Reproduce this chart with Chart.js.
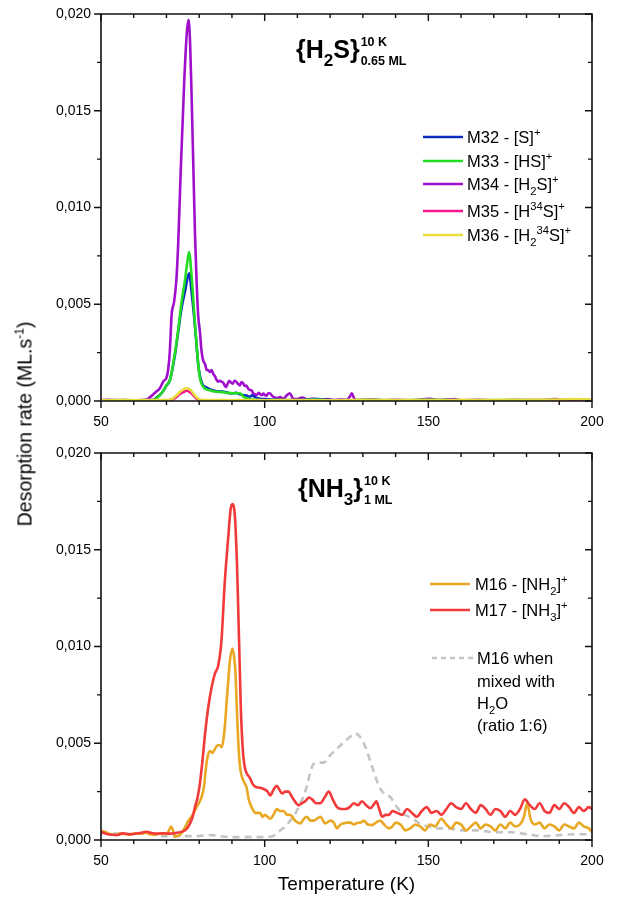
<!DOCTYPE html>
<html>
<head>
<meta charset="utf-8">
<script src="https://cdn.jsdelivr.net/npm/chart.js@4.4.1/dist/chart.umd.min.js"></script>
<style>
html, body { margin: 0; padding: 0; background: #fff; }
#wrap { position: relative; width: 624px; height: 898px; overflow: hidden; font-family: "Liberation Sans", Arial, sans-serif; }
#wrap canvas { position: absolute; left: 0; }
#ytitle { position: absolute; left: 25px; top: 424px; transform: translate(-50%, -50%) rotate(-90deg); white-space: nowrap; font-size: 19.5px; color: #000; }
#ytitle span { font-size: 12px; position: relative; top: -8px; }
</style>
</head>
<body>
<div id="wrap">
  <canvas id="h2s" width="624" height="432" style="top:0"></canvas>
  <canvas id="nh3" width="624" height="466" style="top:432px"></canvas>
  <div id="ytitle">Desorption rate (ML.s<span>-1</span>)</div>
</div>
<script>
// ---- axis ticks ----
const tempTicks = [50, 100, 150, 200];
const rateTicks = [0, 0.005, 0.010, 0.015, 0.020];

// ---- H2S desorption (10 K, 0.65 ML) ----
const tempM32 = [50,54,58,62,64,66,67,68.5,70,71.1,72.6,73.6,74.6,75.7,76.9,77.7,78.7,79.7,80.2,80.7,81.2,82.2,83.3,84.3,85.3,86.3,87.3,88.3,89.3,90.3,91.3,92.4,93.4,94.4,95.5,96.1,96.6,97.6,98.6,100,102,105,108,112,116,120,125,130,140,150,160,170,180,190,200];
const rateM32 = [0.00003,0.00005,0.00003,0.00004,0.00004,0.00006,0.00018,0.0004,0.0008,0.0011,0.0024,0.0036,0.0048,0.0057,0.0066,0.0056,0.0039,0.0019,0.0013,0.001,0.0008,0.0007,0.0006,0.00055,0.0005,0.0005,0.00048,0.00045,0.0004,0.0004,0.00042,0.00035,0.0003,0.00028,0.00022,0.0003,0.00025,0.00015,0.00012,0.0001,0.00008,0.00006,0.00005,0.00007,0.0001,0.00005,0.00004,0.00006,0.00003,0.00005,0.00004,0.00003,0.00005,0.00004,0.00003];

const tempM33 = [50,54,58,62,64,66,67,68.5,70,71.1,72.6,73.6,74.6,75.7,76.3,76.9,77.7,78.7,79.7,80.2,80.7,81.2,82.2,83.3,84.3,86.3,88.2,90.3,92.4,93.4,94.4,95.5,97,100,105,110,115,120,125,130,140,150,160,170,180,190,200];
const rateM33 = [0.00004,0.00003,0.00005,0.00003,0.00004,0.00005,0.00015,0.0004,0.0008,0.0011,0.0025,0.0037,0.0051,0.0063,0.0071,0.0077,0.0064,0.004,0.0019,0.0012,0.0009,0.00074,0.0006,0.00055,0.0005,0.00047,0.00043,0.0004,0.0004,0.00025,0.00014,0.0001,0.00006,0.00004,0.00005,0.00003,0.00006,0.00004,0.00003,0.00005,0.00004,0.00006,0.00003,0.00005,0.00004,0.00003,0.00004];

const tempM34 = [50,52,54,56,58,60,62,64,65,66,67,68,69,70,70.5,71,71.6,72.3,73,73.6,74.4,75.4,76.2,76.7,77.2,77.7,78.2,78.7,79.2,79.7,80.2,80.7,81.2,81.8,82.3,82.7,83.3,83.8,84.3,84.8,85.3,85.8,86.3,86.8,87.3,87.8,88.2,88.7,89.2,89.7,90.3,90.8,91.3,91.8,92.4,92.9,93.4,93.9,94.4,95,95.5,96,96.5,97,97.6,98.1,98.6,99.1,99.6,100.1,100.6,101.1,101.6,102.1,102.6,103.2,103.7,104.7,105.7,106.7,107.7,108.7,110,111.5,113,115,117,119,121,123,125,126,126.6,127.3,128,130,133,136,140,145,150.5,153,158,160,165,170,175,180,185,188.7,192,196,200];
const rateM34 = [0.00004,0.00006,0.00003,0.00005,0.00004,0.00003,0.00005,0.00008,0.0002,0.00035,0.0005,0.00066,0.001,0.0012,0.0016,0.0025,0.0045,0.0051,0.0062,0.0082,0.0121,0.0164,0.019,0.0197,0.0186,0.0156,0.0122,0.0087,0.0062,0.0044,0.0036,0.0026,0.0021,0.0019,0.0016,0.0016,0.0015,0.0016,0.0014,0.00128,0.0011,0.001,0.00105,0.001,0.00095,0.0008,0.00072,0.0009,0.00105,0.00095,0.0009,0.00105,0.001,0.0009,0.0008,0.00098,0.00092,0.00078,0.0008,0.00062,0.00057,0.00055,0.0004,0.00035,0.0003,0.00042,0.00036,0.0003,0.00038,0.0003,0.00028,0.0004,0.0004,0.0003,0.00022,0.00018,0.00014,0.0002,0.00012,0.00028,0.0004,0.00012,0.0001,0.00018,0.00008,0.00012,0.00006,0.0001,0.00005,0.00008,0.00006,0.00022,0.0004,0.00015,0.00004,0.00005,0.00008,0.00003,0.00006,0.00004,0.00012,0.00004,0.0001,0.00004,0.00006,0.00003,0.00005,0.00004,0.00004,0.0001,0.00003,0.00005,0.00004];

const tempM35 = [50,55,60,65,70,71,72,73,74,75.2,76.2,77.2,78.2,79.2,80.2,82,85,90,95,100,110,120,130,140,150,160,170,180,190,200];
const rateM35 = [0.00002,0.00003,0.00002,0.00003,0.00003,0.00005,0.0001,0.0002,0.00035,0.00046,0.00053,0.00045,0.0003,0.00012,0.00005,0.00003,0.00002,0.00004,0.00002,0.00003,0.00002,0.00003,0.00002,0.00004,0.00002,0.00003,0.00002,0.00003,0.00002,0.00003];

const tempM36 = [50,55,60,65,70,71,72,73,74,75.2,76.4,77.4,78.4,79.4,80.4,82,85,90,95,100,110,120,130,140,150,160,170,180,190,195,200];
const rateM36 = [0.00004,0.00005,0.00004,0.00005,0.00005,0.00007,0.00014,0.00028,0.00045,0.0006,0.00066,0.00056,0.00035,0.00015,0.00007,0.00005,0.00005,0.00004,0.00005,0.00004,0.00005,0.00004,0.00006,0.00005,0.00005,0.00006,0.00005,0.00006,0.00008,0.0001,0.00007];

// ---- NH3 desorption (10 K, 1 ML) ----
const tempM16 = [50,51.5,53,54.5,56,57.5,59,60.5,62,63.5,65,66.5,68,69.5,70.5,71.4,72,72.6,73.5,74.1,75.5,76.7,78,79.2,80.7,81.5,82.1,82.7,83.3,84,84.8,85.6,86.3,86.9,87.4,88,88.4,89,89.4,90.2,90.7,91.1,91.5,91.9,92.4,93,93.7,94.5,95,95.5,96.3,97.1,98,98.6,99.4,100.1,100.9,101.7,102.7,103.7,104.7,105.8,106.8,107.8,109.3,110.9,112,112.9,114,115,116,117,118.5,120.1,121.1,122.1,123.2,124.2,125.2,126.2,127.2,128.3,129.3,130.3,131.5,132.8,134,135.3,136.5,137.9,139,140,141.5,143,144.5,146,147.5,149,150.5,152,154,155.5,157,158.5,160,161.5,163,164.5,166,167.5,169,170.5,172,173.5,175,176.5,178,179.2,180.2,181.2,182.5,184,185.5,187,188.5,190,191.5,193,194.5,196,197.5,199,200];
const rateM16 = [0.00048,0.0004,0.0003,0.00026,0.00035,0.0003,0.00028,0.00036,0.00032,0.00038,0.0003,0.00026,0.00034,0.0003,0.0004,0.0007,0.0005,0.00017,0.00022,0.00026,0.0006,0.001,0.0013,0.0017,0.0022,0.0028,0.0038,0.0044,0.0046,0.0045,0.0047,0.0049,0.0049,0.0048,0.0052,0.0062,0.0072,0.0085,0.0093,0.0099,0.0094,0.0086,0.0068,0.0052,0.0039,0.0033,0.003,0.0027,0.0022,0.0019,0.0016,0.0014,0.0014,0.0014,0.0012,0.0013,0.0012,0.0011,0.0013,0.0016,0.0015,0.0015,0.0013,0.0013,0.001,0.00086,0.0011,0.0012,0.001,0.001,0.0011,0.0012,0.00086,0.001,0.0009,0.0006,0.0008,0.00086,0.0009,0.0009,0.0008,0.00088,0.0009,0.001,0.0008,0.00077,0.0009,0.001,0.0008,0.0006,0.0007,0.0009,0.0008,0.0005,0.0006,0.0008,0.0007,0.0005,0.0008,0.0007,0.0011,0.0008,0.0006,0.0009,0.0008,0.0005,0.0007,0.0009,0.0006,0.0008,0.0007,0.0005,0.0008,0.0006,0.0009,0.0007,0.0008,0.0012,0.0019,0.0011,0.0008,0.0009,0.0006,0.0008,0.0007,0.0005,0.0008,0.0007,0.0006,0.0009,0.0007,0.0006,0.0004];

const tempM17 = [50,52,54.8,56.8,58.5,60,62,63.9,65.5,67,69,71.1,73.1,74.5,75.7,76.5,77.2,78,78.7,79.5,80.2,81,81.8,82.8,83.8,84.8,85.8,86.8,87.8,88.9,89.6,90.2,90.7,91.1,91.5,91.9,92.3,92.7,93.1,93.5,94,94.5,95.5,96.3,97.1,98.6,100.1,100.9,101.7,102.7,103.7,104.5,105.3,106.3,107.3,108.1,108.8,110.4,111.4,112.4,113.5,114.5,115.7,117,118.3,119.6,120.8,122.1,123.4,124.7,126,127.2,128.5,129.7,131,132.3,133.2,134.1,135,135.9,137,138,139,140.5,142,143.5,145,146.5,148,149.5,151,152.5,154,155.5,157,158.5,160,161.5,163,164.5,166,167.5,169,170.5,172,173.5,175,176.5,178,179.5,181,182.5,184,185.5,187,188.5,190,191.5,193,194.5,196,197.5,199,200];
const rateM17 = [0.00043,0.0003,0.00026,0.00034,0.0003,0.00031,0.00036,0.00043,0.00036,0.00033,0.00035,0.00033,0.00037,0.00042,0.0005,0.00065,0.00086,0.0012,0.0017,0.0022,0.0029,0.0041,0.0055,0.0069,0.0079,0.0086,0.009,0.0103,0.0133,0.0157,0.0171,0.01736,0.0171,0.0162,0.0145,0.0121,0.0095,0.0069,0.0053,0.0043,0.0037,0.00345,0.0032,0.0029,0.00276,0.0027,0.0026,0.0025,0.0023,0.0026,0.0028,0.0026,0.0024,0.0025,0.0025,0.0023,0.0021,0.0018,0.0019,0.002,0.0022,0.0021,0.0019,0.0019,0.0022,0.0025,0.0021,0.0017,0.0016,0.0016,0.0017,0.0019,0.0018,0.002,0.0018,0.00164,0.0018,0.002,0.0016,0.0012,0.0013,0.0013,0.0015,0.0014,0.0013,0.0016,0.0014,0.0012,0.0015,0.0017,0.0014,0.0015,0.0013,0.0016,0.0019,0.0017,0.0016,0.0019,0.0016,0.0014,0.0018,0.0016,0.0013,0.0016,0.0015,0.0012,0.0015,0.0013,0.0016,0.0021,0.0018,0.0016,0.0019,0.0015,0.0014,0.0018,0.0016,0.0019,0.0017,0.0014,0.0017,0.0015,0.0017,0.0016];

// M16 of NH3 mixed with H2O (1:6)
const tempMix = [50,55,60,65.9,68.9,73.1,79.2,83,89.4,95.5,101.7,103.5,104.8,106.3,107.8,109.5,110.9,112,112.9,114.5,116,118,120.1,122.6,125.2,127.7,129.3,130.8,132.8,134.9,136.4,138.5,140,142,144,146,148,150,153,156,160,165,170,175,180,185,190,195,200];
const rateMix = [0.00034,0.00033,0.00032,0.00032,0.0002,0.0002,0.0002,0.00026,0.00015,0.00015,0.00017,0.0003,0.0005,0.0007,0.001,0.0014,0.0019,0.0023,0.0028,0.0038,0.004,0.004,0.0044,0.0048,0.0052,0.0055,0.0053,0.0048,0.0038,0.0028,0.0024,0.0022,0.0018,0.0014,0.0012,0.001,0.0008,0.0007,0.0006,0.0006,0.0005,0.0005,0.0004,0.0004,0.0003,0.0002,0.00025,0.0003,0.0003];

const FONT = '"Liberation Sans", Arial, sans-serif';

function pts(xs, ys) { return xs.map((x, i) => ({ x: x, y: ys[i] })); }

function series(label, xs, ys, color, order, dash) {
  return {
    label: label, data: pts(xs, ys), borderColor: color, backgroundColor: color,
    borderWidth: 2.6, pointRadius: 0, fill: false, order: order,
    cubicInterpolationMode: 'monotone', borderDash: dash || [], borderJoinStyle: 'round'
  };
}

// draws text made of normal / sub / sup pieces, returns end x
function richText(ctx, x, y, parts, size, bold) {
  const w = bold ? 'bold ' : '';
  ctx.textBaseline = 'alphabetic';
  ctx.textAlign = 'left';
  for (const [txt, kind] of parts) {
    let s = size, dy = 0;
    if (kind === 'sub') { s = size * 0.68; dy = size * 0.3; }
    if (kind === 'sup') { s = size * 0.68; dy = -size * 0.42; }
    ctx.font = w + s + 'px ' + FONT;
    ctx.fillText(txt, x, y + dy);
    x += ctx.measureText(txt).width;
  }
  return x;
}

// frame with ticks on all four sides (outside on left/bottom, inside on top/right)
const framePlugin = {
  id: 'frame',
  afterDatasetsDraw(chart) {
    const ctx = chart.ctx;
    const { left, right, top, bottom } = chart.chartArea;
    const xs = chart.scales.x, ys = chart.scales.y;
    ctx.save();
    ctx.strokeStyle = '#111';
    ctx.lineWidth = 1.6;
    ctx.beginPath();
    ctx.rect(left, top, right - left, bottom - top);
    ctx.stroke();
    ctx.lineWidth = 1.4;
    ctx.beginPath();
    for (let t = 50; t <= 200; t += 10) {
      const px = xs.getPixelForValue(t);
      const len = (t % 50 === 0) ? 7 : 4;
      ctx.moveTo(px, bottom); ctx.lineTo(px, bottom + len);
      ctx.moveTo(px, top); ctx.lineTo(px, top + len);
    }
    for (let k = 0; k <= 8; k++) {
      const py = ys.getPixelForValue(k * 0.0025);
      const len = (k % 2 === 0) ? 7 : 4;
      ctx.moveTo(left - len, py); ctx.lineTo(left, py);
      ctx.moveTo(right - len, py); ctx.lineTo(right, py);
    }
    ctx.stroke();
    ctx.restore();
  },
  afterDraw(chart) {
    const o = chart.options.plugins.frame;
    const ctx = chart.ctx;
    ctx.save();
    ctx.fillStyle = '#000';
    // sample label
    const tx = richText(ctx, o.title.x, o.title.y, o.title.parts, 25, true);
    richText(ctx, tx + 1, o.title.y - 12, [[o.title.sup, '']], 12.5, true);
    richText(ctx, tx + 1, o.title.y + 7, [[o.title.sub, '']], 12.5, true);
    // legend
    for (const row of o.legend) {
      if (row.color) {
        ctx.strokeStyle = row.color;
        ctx.lineWidth = 2.6;
        ctx.setLineDash(row.dash || []);
        ctx.beginPath();
        ctx.moveTo(row.x0, row.y); ctx.lineTo(row.x1, row.y);
        ctx.stroke();
        ctx.setLineDash([]);
      }
      ctx.fillStyle = '#000';
      richText(ctx, row.tx, row.y + 5.7, row.parts, 16.5, false);
    }
    if (o.xtitle) {
      ctx.font = '19px ' + FONT;
      ctx.textAlign = 'center';
      ctx.textBaseline = 'middle';
      ctx.fillText(o.xtitle.text, (chart.chartArea.left + chart.chartArea.right) / 2, o.xtitle.y);
    }
    ctx.restore();
  }
};

function scalesFor(xHeight) {
  return {
    x: {
      type: 'linear', min: 50, max: 200,
      afterFit(s) { s.height = xHeight; },
      afterBuildTicks(s) { s.ticks = tempTicks.map(v => ({ value: v })); },
      grid: { display: true, drawOnChartArea: false, drawTicks: true, tickLength: 7, color: 'rgba(0,0,0,0)' },
      border: { display: false },
      ticks: { padding: 6, color: '#000', font: { family: FONT, size: 14 }, maxRotation: 0, callback: v => String(v) }
    },
    y: {
      type: 'linear', min: 0, max: 0.02,
      afterFit(s) { s.width = 101; },
      afterBuildTicks(s) { s.ticks = rateTicks.map(v => ({ value: v })); },
      grid: { display: true, drawOnChartArea: false, drawTicks: true, tickLength: 7, color: 'rgba(0,0,0,0)' },
      border: { display: false },
      ticks: { padding: 3, color: '#000', font: { family: FONT, size: 14 }, callback: v => v.toFixed(3).replace('.', ',') }
    }
  };
}

const common = {
  responsive: false, animation: false, devicePixelRatio: 1,
  events: [],
};

new Chart(document.getElementById('h2s'), {
  type: 'line',
  data: {
    datasets: [
      series('M32 - [S]+', tempM32, rateM32, '#0b2dc0', 4),
      series('M33 - [HS]+', tempM33, rateM33, '#22dd22', 3),
      series('M34 - [H2S]+', tempM34, rateM34, '#a010cc', 5),
      series('M35 - [H34S]+', tempM35, rateM35, '#f5158c', 2),
      series('M36 - [H234S]+', tempM36, rateM36, '#e8dc3a', 1)
    ]
  },
  options: Object.assign({}, common, {
    layout: { padding: { left: 0, top: 14, right: 32, bottom: 0 } },
    scales: scalesFor(31),
    plugins: {
      legend: { display: false }, tooltip: { enabled: false },
      frame: {
        title: { x: 296, y: 58, parts: [['{H', ''], ['2', 'sub'], ['S}', '']], sup: '10 K', sub: '0.65 ML' },
        legend: [
          { color: '#0b2dc0', x0: 423, x1: 463, tx: 467, y: 137, parts: [['M32 - [S]', ''], ['+', 'sup']] },
          { color: '#22dd22', x0: 423, x1: 463, tx: 467, y: 161, parts: [['M33 - [HS]', ''], ['+', 'sup']] },
          { color: '#a010cc', x0: 423, x1: 463, tx: 467, y: 184, parts: [['M34 - [H', ''], ['2', 'sub'], ['S]', ''], ['+', 'sup']] },
          { color: '#f5158c', x0: 423, x1: 463, tx: 467, y: 211, parts: [['M35 - [H', ''], ['34', 'sup'], ['S]', ''], ['+', 'sup']] },
          { color: '#e8dc3a', x0: 423, x1: 463, tx: 467, y: 235, parts: [['M36 - [H', ''], ['2', 'sub'], ['34', 'sup'], ['S]', ''], ['+', 'sup']] }
        ]
      }
    }
  }),
  plugins: [framePlugin]
});

new Chart(document.getElementById('nh3'), {
  type: 'line',
  data: {
    datasets: [
      series('M16 - [NH2]+', tempM16, rateM16, '#e8a824', 2),
      series('M17 - [NH3]+', tempM17, rateM17, '#f23a3a', 1),
      series('M16 when mixed with H2O (ratio 1:6)', tempMix, rateMix, '#c4c4c4', 3, [7, 5])
    ]
  },
  options: Object.assign({}, common, {
    layout: { padding: { left: 0, top: 21, right: 32, bottom: 0 } },
    scales: scalesFor(58),
    plugins: {
      legend: { display: false }, tooltip: { enabled: false },
      frame: {
        title: { x: 298, y: 65, parts: [['{NH', ''], ['3', 'sub'], ['}', '']], sup: '10 K', sub: '1 ML' },
        legend: [
          { color: '#e8a824', x0: 430, x1: 470, tx: 475, y: 152, parts: [['M16 - [NH', ''], ['2', 'sub'], [']', ''], ['+', 'sup']] },
          { color: '#f23a3a', x0: 430, x1: 470, tx: 475, y: 178, parts: [['M17 - [NH', ''], ['3', 'sub'], [']', ''], ['+', 'sup']] },
          { color: '#c4c4c4', dash: [5, 4], x0: 432, x1: 473, tx: 477, y: 226, parts: [['M16 when', '']] },
          { tx: 477, y: 249, parts: [['mixed with', '']] },
          { tx: 477, y: 271, parts: [['H', ''], ['2', 'sub'], ['O', '']] },
          { tx: 477, y: 293, parts: [['(ratio 1:6)', '']] }
        ],
        xtitle: { text: 'Temperature (K)', y: 453 }
      }
    }
  }),
  plugins: [framePlugin]
});
</script>
</body>
</html>
